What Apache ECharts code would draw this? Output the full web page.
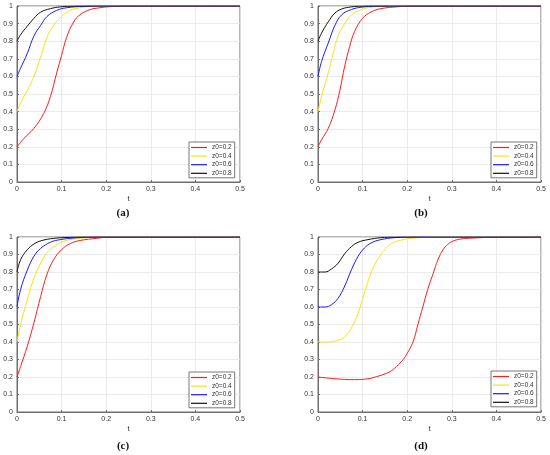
<!DOCTYPE html>
<html><head><meta charset="utf-8">
<script src="https://cdn.jsdelivr.net/npm/echarts/dist/echarts.min.js"></script>
<style>html,body{margin:0;padding:0;background:#fff}#c{width:550px;height:455px}</style>
</head><body><div id="c"></div>
<script>
const seriesNames = ['z0=0.2', 'z0=0.4', 'z0=0.6', 'z0=0.8'];
const panelLabels = ['(a)', '(b)', '(c)', '(d)'];
const xAxisTitle = 't';

// panel (a)
const a_z02 = [[0,0.2],[0.016,0.249],[0.038,0.305],[0.06,0.39],[0.075,0.486],[0.089,0.62],[0.1,0.72],[0.111,0.82],[0.127,0.91],[0.141,0.95],[0.164,0.98],[0.186,0.99],[0.2,0.995],[0.25,1],[0.5,1]];
const a_z04 = [[0,0.4],[0.008,0.45],[0.023,0.52],[0.038,0.60],[0.053,0.71],[0.067,0.82],[0.082,0.89],[0.1,0.94],[0.119,0.975],[0.141,0.99],[0.17,0.998],[0.22,1],[0.5,1]];
const a_z06 = [[0,0.6],[0.008,0.647],[0.023,0.73],[0.038,0.83],[0.053,0.89],[0.067,0.94],[0.089,0.975],[0.111,0.99],[0.15,0.998],[0.2,1],[0.5,1]];
const a_z08 = [[0,0.8],[0.008,0.837],[0.023,0.885],[0.038,0.93],[0.053,0.965],[0.075,0.985],[0.097,0.995],[0.13,0.999],[0.18,1],[0.5,1]];
// panel (b)
const b_z02 = [[0,0.2],[0.008,0.24],[0.023,0.305],[0.038,0.41],[0.049,0.52],[0.06,0.66],[0.071,0.77],[0.082,0.855],[0.1,0.93],[0.119,0.966],[0.141,0.985],[0.18,0.996],[0.2,0.999],[0.25,1],[0.5,1]];
const b_z04 = [[0,0.4],[0.008,0.486],[0.023,0.62],[0.034,0.73],[0.045,0.83],[0.06,0.90],[0.075,0.95],[0.097,0.98],[0.119,0.993],[0.15,0.998],[0.2,1],[0.5,1]];
const b_z06 = [[0,0.6],[0.008,0.685],[0.023,0.79],[0.038,0.89],[0.053,0.95],[0.075,0.98],[0.097,0.993],[0.13,0.999],[0.18,1],[0.5,1]];
const b_z08 = [[0,0.8],[0.008,0.846],[0.023,0.91],[0.038,0.96],[0.053,0.983],[0.075,0.995],[0.1,0.999],[0.15,1],[0.5,1]];
// panel (c)
const c_z02 = [[0,0.2],[0.008,0.26],[0.023,0.375],[0.038,0.51],[0.053,0.66],[0.067,0.785],[0.082,0.87],[0.1,0.928],[0.119,0.962],[0.141,0.98],[0.18,0.993],[0.2,0.998],[0.25,1],[0.5,1]];
const c_z04 = [[0,0.4],[0.008,0.50],[0.023,0.64],[0.038,0.765],[0.053,0.85],[0.067,0.91],[0.086,0.95],[0.104,0.975],[0.133,0.99],[0.17,0.997],[0.22,1],[0.5,1]];
const c_z06 = [[0,0.6],[0.008,0.70],[0.023,0.81],[0.038,0.89],[0.053,0.935],[0.075,0.97],[0.097,0.985],[0.13,0.995],[0.16,0.999],[0.2,1],[0.5,1]];
const c_z08 = [[0,0.8],[0.008,0.87],[0.023,0.927],[0.038,0.96],[0.056,0.98],[0.082,0.992],[0.12,0.998],[0.16,1],[0.5,1]];
// panel (d)
const d_z02 = [[0,0.2],[0.038,0.19],[0.082,0.185],[0.112,0.19],[0.139,0.208],[0.161,0.23],[0.176,0.26],[0.191,0.30],[0.2,0.335],[0.213,0.40],[0.224,0.50],[0.235,0.60],[0.246,0.70],[0.258,0.79],[0.269,0.87],[0.28,0.926],[0.291,0.958],[0.3,0.974],[0.317,0.987],[0.34,0.993],[0.385,0.998],[0.42,1],[0.5,1]];
const d_z04 = [[0,0.4],[0.023,0.40],[0.045,0.41],[0.06,0.43],[0.075,0.48],[0.09,0.565],[0.104,0.68],[0.119,0.795],[0.133,0.87],[0.149,0.925],[0.164,0.962],[0.186,0.982],[0.216,0.994],[0.25,0.999],[0.3,1],[0.5,1]];
const d_z06 = [[0,0.6],[0.016,0.60],[0.03,0.613],[0.045,0.65],[0.06,0.72],[0.075,0.813],[0.09,0.89],[0.104,0.937],[0.119,0.966],[0.141,0.985],[0.171,0.996],[0.2,0.999],[0.25,1],[0.5,1]];
const d_z08 = [[0,0.8],[0.016,0.80],[0.03,0.817],[0.045,0.85],[0.06,0.905],[0.075,0.945],[0.09,0.97],[0.112,0.985],[0.141,0.996],[0.17,0.999],[0.22,1],[0.5,1]];

const panels = [
  [a_z02, a_z04, a_z06, a_z08],
  [b_z02, b_z04, b_z06, b_z08],
  [c_z02, c_z04, c_z06, c_z08],
  [d_z02, d_z04, d_z06, d_z08]
];

// layout / style
const colors = ['#ff1a1a', '#f7e21c', '#1a1aff', '#111111'];
const grids = [
  {left: 17, top: 6, width: 223, height: 176},
  {left: 318, top: 6, width: 223, height: 176},
  {left: 17, top: 237, width: 223, height: 175},
  {left: 318, top: 237, width: 223, height: 175}
];
const legendPos = [[189, 142], [491, 142], [189, 372], [491, 371]];
const captionPos = [[123, 213], [421, 213], [123, 446], [421, 446]];

const axisCol = '#6e6e6e';
const labelFont = {fontSize: 7, color: '#333', fontFamily: 'Liberation Sans, Arial, sans-serif'};

const option = {
  animation: false,
  backgroundColor: '#fff',
  grid: grids.map(g => Object.assign({show: true, borderColor: axisCol, borderWidth: 1, backgroundColor: '#fff'}, g)),
  xAxis: grids.map((g, i) => ({
    type: 'value', gridIndex: i, min: 0, max: 0.5, interval: 0.1,
    axisLine: {show: true, lineStyle: {color: axisCol, width: 1}},
    axisTick: {show: true, inside: true, length: 2, lineStyle: {color: axisCol}},
    splitLine: {show: true, lineStyle: {color: '#e6e6e6', width: 0.8}},
    axisLabel: Object.assign({margin: 4, formatter: v => String(+v.toFixed(1))}, labelFont),
    name: xAxisTitle, nameLocation: 'middle', nameGap: 13,
    nameTextStyle: {fontSize: 8, color: '#333', fontFamily: 'Liberation Sans, Arial, sans-serif'}
  })),
  yAxis: grids.map((g, i) => ({
    type: 'value', gridIndex: i, min: 0, max: 1, interval: 0.1,
    axisLine: {show: true, lineStyle: {color: axisCol, width: 1}},
    axisTick: {show: true, inside: true, length: 2, lineStyle: {color: axisCol}},
    splitLine: {show: true, lineStyle: {color: '#e6e6e6', width: 0.8}},
    axisLabel: Object.assign({margin: 4, formatter: v => String(+v.toFixed(1))}, labelFont)
  })),
  legend: legendPos.map(p => ({
    left: p[0], top: p[1], orient: 'vertical', data: seriesNames,
    icon: 'rect',
    backgroundColor: '#fff', borderColor: '#555', borderWidth: 0.8,
    padding: [2, 3, 1, 2], itemGap: 1.6, itemWidth: 16, itemHeight: 1.2,
    textStyle: {fontSize: 6.5, lineHeight: 7, color: '#333', fontFamily: 'Liberation Sans, Arial, sans-serif'},
    selectedMode: false
  })),
  graphic: captionPos.map((p, i) => ({
    type: 'text', x: p[0], y: p[1],
    style: {text: panelLabels[i], font: 'bold 11px "Liberation Serif", "Times New Roman", serif', fill: '#111', align: 'center', verticalAlign: 'middle'}
  })),
  series: []
};

panels.forEach((set, pi) => {
  set.forEach((data, si) => {
    option.series.push({
      type: 'line', name: seriesNames[si], xAxisIndex: pi, yAxisIndex: pi,
      data: data, symbol: 'none', smooth: 0.4,
      lineStyle: {width: 1, color: colors[si]}, itemStyle: {color: colors[si]},
      z: 3 + si
    });
  });
});

const chart = echarts.init(document.getElementById('c'), null, {renderer: 'canvas'});
chart.setOption(option);
</script></body></html>
